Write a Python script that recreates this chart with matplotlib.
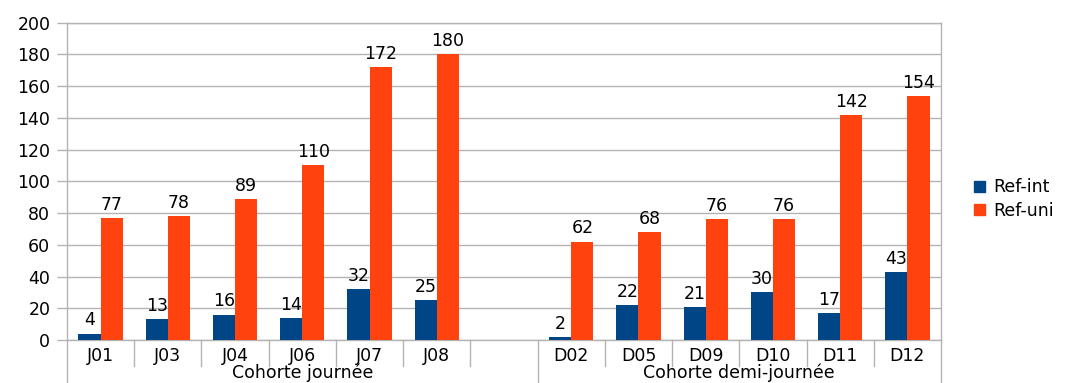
import matplotlib
matplotlib.use("Agg")
import matplotlib.pyplot as plt
import matplotlib.transforms as mtransforms
from matplotlib.patches import Patch
import numpy as np

plt.rcParams['font.family'] = ['DejaVu Sans']

# Data
groups = ["Cohorte journée", "Cohorte demi-journée"]
cats_journee = ["J01", "J03", "J04", "J06", "J07", "J08", ""]
cats_demi = ["D02", "D05", "D09", "D10", "D11", "D12"]
ref_int_journee = [4, 13, 16, 14, 32, 25, None]
ref_uni_journee = [77, 78, 89, 110, 172, 180, None]
ref_int_demi = [2, 22, 21, 30, 17, 43]
ref_uni_demi = [62, 68, 76, 76, 142, 154]
series_names = ["Ref-int", "Ref-uni"]
yticks = list(range(0, 201, 20))

C_INT = "#004586"
C_UNI = "#ff420e"
GRID = "#b3b3b3"
FS = 12.5

categories = cats_journee + cats_demi
ref_int = ref_int_journee + ref_int_demi
ref_uni = ref_uni_journee + ref_uni_demi
group_sizes = [len(cats_journee), len(cats_demi)]

fig = plt.figure(figsize=(10.66, 3.83), dpi=100)
ax = fig.add_axes([67 / 1066, 1 - 340 / 383, (941 - 67) / 1066, (340 - 22.7) / 383])

x = np.arange(len(categories))
w = 0.33
idx = [i for i, v in enumerate(ref_int) if v is not None]
xi = x[idx]
bi = ax.bar(xi - w / 2, [ref_int[i] for i in idx], width=w, color=C_INT, zorder=3)
bu = ax.bar(xi + w / 2, [ref_uni[i] for i in idx], width=w, color=C_UNI, zorder=3)
ax.bar_label(bi, fontsize=FS, padding=3)
ax.bar_label(bu, fontsize=FS, padding=3)

ax.set_xlim(-0.5, len(categories) - 0.5)
ax.set_ylim(0, 200)
ax.set_yticks(yticks)
ax.tick_params(axis='y', length=7, color=GRID, labelsize=FS, pad=5, width=1)
ax.yaxis.grid(True, color=GRID, linewidth=1, zorder=0)
ax.set_axisbelow(True)
for s in ax.spines.values():
    s.set_color(GRID)
    s.set_linewidth(1)

# category labels
ax.set_xticks(x)
ax.set_xticklabels(categories, fontsize=FS)
ax.tick_params(axis='x', length=0, pad=5)
# separators
trans = mtransforms.blended_transform_factory(ax.transData, ax.transAxes)
short = 26 / 317
long_ = 45 / 317
bounds = np.arange(len(categories) + 1) - 0.5
gb = [-0.5]
for g in group_sizes:
    gb.append(gb[-1] + g)
for b in bounds:
    L = long_ if b in gb else short
    ax.plot([b, b], [0, -L], transform=trans, color=GRID, lw=1, clip_on=False)

# group labels
start = -0.5
for g, n in zip(groups, group_sizes):
    ax.text(start + n / 2, -41.5 / 317, g, transform=trans, ha='center', va='bottom',
            fontsize=FS)
    start += n

handles = [Patch(color=C_INT), Patch(color=C_UNI)]
fig.legend(handles, series_names, loc='center left', bbox_to_anchor=(958 / 1066, 1 - 199 / 383),
           frameon=False, fontsize=FS, handlelength=0.65, handleheight=0.65,
           handletextpad=0.5, labelspacing=0.3)

fig.savefig("out.png", dpi=100)
